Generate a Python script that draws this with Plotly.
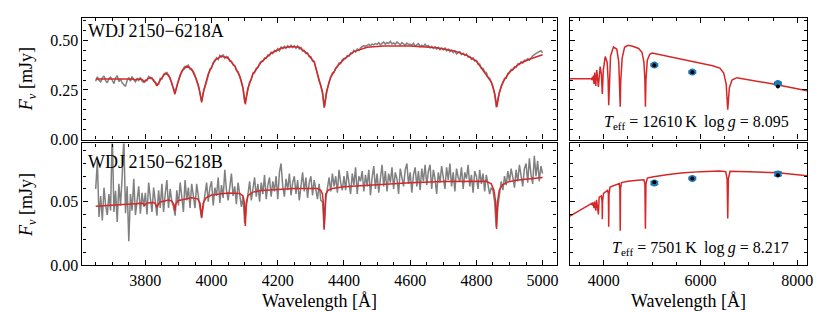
import numpy as np
import plotly.graph_objects as go

# ---------------- data ----------------
obs_wl = np.arange(3650, 5001, 5)

# observed spectrum, WDJ2150-6218A  (units of 1e-3 mJy)
obsA_milli = [
    294, 316, 299, 291, 311, 321, 297, 286, 308, 315,
    300, 282, 310, 322, 292, 304, 286, 276, 268, 298,
    312, 294, 318, 302, 291, 310, 297, 313, 294, 289,
    300, 297, 318, 308, 312, 293, 290, 280, 278, 309,
    305, 329, 329, 340, 320, 312, 277, 261, 237, 270,
    299, 327, 338, 360, 369, 367, 375, 355, 350, 343,
    325, 293, 277, 226, 194, 240, 261, 291, 323, 356,
    360, 389, 395, 412, 403, 424, 416, 428, 410, 419,
    416, 395, 395, 375, 374, 348, 342, 315, 295, 255,
    185, 217, 253, 290, 302, 336, 337, 360, 361, 384,
    395, 394, 412, 409, 426, 422, 440, 433, 449, 443,
    458, 447, 466, 458, 470, 459, 473, 464, 475, 464,
    473, 460, 472, 456, 464, 446, 449, 433, 436, 417,
    417, 396, 395, 359, 335, 295, 274, 233, 160, 222,
    256, 292, 310, 336, 338, 362, 366, 386, 383, 403,
    410, 408, 424, 420, 437, 434, 450, 441, 456, 448,
    462, 466, 473, 469, 477, 480, 473, 482, 477, 484,
    480, 488, 477, 485, 492, 480, 489, 484, 495, 482,
    487, 480, 492, 485, 477, 489, 482, 475, 486, 479,
    480, 475, 485, 470, 478, 484, 468, 476, 470, 480,
    469, 474, 462, 470, 459, 467, 456, 464, 452, 462,
    452, 461, 447, 455, 443, 450, 438, 447, 431, 440,
    443, 428, 435, 424, 431, 416, 419, 404, 411, 396,
    399, 380, 381, 359, 359, 341, 339, 314, 309, 283,
    269, 228, 162, 207, 237, 271, 284, 309, 309, 334,
    336, 353, 350, 367, 364, 381, 378, 392, 386, 400,
    401, 407, 400, 414, 421, 428, 436, 439, 443, 448,
    438,
]

# observed spectrum, WDJ2150-6218B  (units of 1e-4 mJy)
obsB_tenth_milli = [
    600, 820, 380, 545, 352, 610, 470, 395, 560, 430,
    1050, 420, 585, 340, 640, 470, 700, 1000, 410, 620,
    190, 560, 430, 680, 395, 540, 620, 405, 570, 460,
    570, 400, 650, 530, 420, 610, 490, 390, 590, 450,
    640, 420, 560, 670, 450, 600, 500, 460, 390, 590,
    470, 650, 540, 420, 670, 510, 610, 450, 640, 530,
    450, 640, 530, 450, 370, 460, 580, 650, 500, 610,
    660, 470, 610, 545, 690, 490, 630, 530, 750, 590,
    510, 640, 720, 545, 620, 480, 650, 560, 460, 540,
    330, 460, 580, 660, 510, 620, 690, 540, 640, 500,
    650, 560, 710, 520, 630, 690, 540, 660, 580, 700,
    520, 730, 800, 620, 540, 680, 590, 720, 550, 650,
    700, 560, 670, 510, 640, 730, 580, 690, 530, 650,
    700, 550, 670, 600, 520, 640, 510, 500, 290, 520,
    610, 690, 580, 720, 620, 700, 570, 750, 650, 590,
    700, 590, 740, 660, 560, 720, 630, 770, 560, 700,
    660, 740, 580, 710, 620, 750, 550, 690, 780, 600,
    720, 570, 710, 790, 620, 740, 580, 720, 650, 770,
    600, 730, 680, 560, 760, 690, 620, 750, 800, 640,
    730, 570, 710, 770, 620, 740, 590, 760, 660, 790,
    630, 740, 790, 600, 750, 680, 560, 730, 650, 780,
    700, 600, 770, 670, 800, 620, 730, 580, 760, 690,
    660, 770, 600, 730, 680, 790, 620, 710, 570, 740,
    700, 600, 750, 640, 720, 580, 710, 620, 560, 610,
    590, 500, 300, 460, 570, 660, 590, 700, 630, 740,
    660, 760, 690, 610, 750, 660, 790, 700, 620, 760,
    800, 650, 840, 710, 640, 860, 700, 820, 660, 780,
    720,
]

# best-fit spectroscopic model, A (top-left)
modelA_wl = [3650, 3700, 3740, 3760, 3772, 3780, 3790, 3798, 3806, 3815,
             3825, 3835, 3845, 3860, 3870, 3880, 3889, 3898, 3910, 3925,
             3940, 3955, 3963, 3970, 3977, 3990, 4010, 4030, 4050, 4070,
             4085, 4095, 4102, 4110, 4125, 4150, 4180, 4210, 4240, 4265,
             4290, 4310, 4325, 4335, 4341, 4347, 4360, 4380, 4400, 4430,
             4470, 4520, 4600, 4680, 4730, 4770, 4800, 4815, 4825, 4845,
             4855, 4862, 4869, 4880, 4900, 4930, 4960, 5000]
modelA_fl = [0.305, 0.306, 0.306, 0.305, 0.300, 0.305, 0.303, 0.290, 0.305, 0.313,
             0.300, 0.270, 0.300, 0.334, 0.325, 0.285, 0.228, 0.285, 0.345, 0.370,
             0.355, 0.300, 0.250, 0.188, 0.250, 0.330, 0.400, 0.421, 0.410, 0.370,
             0.320, 0.260, 0.178, 0.260, 0.330, 0.390, 0.435, 0.460, 0.469, 0.465,
             0.432, 0.390, 0.300, 0.240, 0.165, 0.240, 0.315, 0.370, 0.405, 0.443,
             0.465, 0.472, 0.471, 0.463, 0.448, 0.425, 0.395, 0.360, 0.340, 0.290,
             0.235, 0.165, 0.235, 0.290, 0.340, 0.382, 0.405, 0.427]

# best-fit spectroscopic model, B (bottom-left)
modelB_wl = [3650, 3700, 3750, 3768, 3772, 3776, 3790, 3795, 3798, 3801,
             3806, 3825, 3830, 3835, 3840, 3845, 3870, 3880, 3886, 3889,
             3892, 3898, 3940, 3958, 3965, 3968, 3970, 3972, 3975, 3983,
             4000, 4050, 4085, 4095, 4099, 4102, 4105, 4110, 4125, 4150,
             4250, 4320, 4330, 4335, 4338, 4340, 4342, 4345, 4352, 4365,
             4400, 4500, 4600, 4700, 4800, 4830, 4845, 4853, 4858, 4861,
             4864, 4869, 4878, 4895, 4920, 5000]
modelB_fl = [0.0464, 0.0472, 0.0480, 0.0484, 0.0478, 0.0485, 0.0488, 0.0482, 0.0470, 0.0482,
             0.0490, 0.0494, 0.0485, 0.0455, 0.0485, 0.0497, 0.0513, 0.0505, 0.0480, 0.0430,
             0.0480, 0.0508, 0.0530, 0.0522, 0.0490, 0.0430, 0.0375, 0.0430, 0.0490, 0.0530,
             0.0552, 0.0568, 0.0565, 0.0545, 0.0490, 0.0310, 0.0490, 0.0548, 0.0575, 0.0588,
             0.0604, 0.0603, 0.0590, 0.0560, 0.0480, 0.0280, 0.0480, 0.0560, 0.0590, 0.0604,
             0.0618, 0.0634, 0.0648, 0.0658, 0.0664, 0.0660, 0.0640, 0.0590, 0.0500, 0.0285,
             0.0500, 0.0590, 0.0630, 0.0655, 0.0668, 0.0690]

# photometric-fit models (right panels)
photmodA_wl = [3300, 3640, 3745, 3755, 3765, 3775, 3785, 3798, 3812, 3835,
               3855, 3889, 3910, 3925, 3950, 3970, 3990, 4030, 4070, 4090,
               4102, 4115, 4140, 4200, 4270, 4310, 4330, 4340, 4350, 4380,
               4430, 4500, 4600, 4720, 4790, 4830, 4850, 4861, 4872, 4900,
               4950, 5000, 6250, 6400, 6480, 6530, 6563, 6596, 6650, 6750,
               7500, 8205]
photmodA_fl = [0.307, 0.307, 0.308, 0.300, 0.315, 0.298, 0.322, 0.280, 0.338, 0.270,
               0.350, 0.265, 0.360, 0.368, 0.330, 0.230, 0.350, 0.418, 0.390, 0.300,
               0.173, 0.300, 0.420, 0.467, 0.455, 0.390, 0.290, 0.165, 0.290, 0.410,
               0.465, 0.475, 0.470, 0.459, 0.440, 0.390, 0.300, 0.165, 0.300, 0.400,
               0.430, 0.436, 0.372, 0.360, 0.335, 0.280, 0.151, 0.260, 0.300, 0.312,
               0.280, 0.246]

photmodB_wl = [3300, 3500, 3700, 3760, 3770, 3778, 3798, 3810, 3835, 3850,
               3889, 3905, 3950, 3965, 3970, 3975, 3995, 4080, 4095, 4102,
               4109, 4130, 4250, 4320, 4333, 4340, 4347, 4365, 4500, 4700,
               4830, 4850, 4861, 4872, 4900, 5000, 5300, 5600, 6000, 6400,
               6520, 6550, 6563, 6576, 6610, 7000, 7600, 8205]
photmodB_fl = [0.0386, 0.0430, 0.0474, 0.0488, 0.0470, 0.0492, 0.0450, 0.0500, 0.0430, 0.0515,
               0.0400, 0.0535, 0.0545, 0.0500, 0.0363, 0.0500, 0.0565, 0.0590, 0.0560, 0.0304,
               0.0560, 0.0615, 0.0635, 0.0642, 0.0600, 0.0271, 0.0600, 0.0650, 0.0660, 0.0668,
               0.0672, 0.0640, 0.0287, 0.0640, 0.0685, 0.0693, 0.0712, 0.0725, 0.0736, 0.0741,
               0.0736, 0.0680, 0.0368, 0.0680, 0.0738, 0.0735, 0.0727, 0.0703]

# photometry
phot_wl = [5045, 5830, 7600]
photA_obs = [0.376, 0.340, 0.283]
photA_err = [0.004, 0.004, 0.005]
photA_syn = [0.375, 0.339, 0.267]
photB_obs = [0.0647, 0.0683, 0.0718]
photB_err = [0.0010, 0.0006, 0.0013]
photB_syn = [0.0652, 0.0683, 0.0708]

labelA = "WDJ\u20092150\u22126218A"
labelB = "WDJ\u20092150\u22126218B"
paramA = "<i>T</i><sub>eff</sub> = 12610\u2009K \u2009log\u2009<i>g</i> = 8.095"
paramB = "<i>T</i><sub>eff</sub> = 7501\u2009K \u2009log\u2009<i>g</i> = 8.217"

# ---------------- figure ----------------
GRAY = "#808080"
RED = "#d62728"
BLUE = "#1f77b4"
FONT = "Liberation Serif"

fig = go.Figure()

fig.add_trace(go.Scatter(x=obs_wl, y=np.array(obsA_milli) / 1000.0, mode="lines",
                         line=dict(color=GRAY, width=1.5), xaxis="x", yaxis="y"))
fig.add_trace(go.Scatter(x=modelA_wl, y=modelA_fl, mode="lines",
                         line=dict(color=RED, width=1.5), xaxis="x", yaxis="y"))

fig.add_trace(go.Scatter(x=photmodA_wl, y=photmodA_fl, mode="lines",
                         line=dict(color=RED, width=1.5), xaxis="x2", yaxis="y2"))
fig.add_trace(go.Scatter(x=phot_wl, y=photA_obs, mode="markers",
                         marker=dict(color=BLUE, size=7),
                         error_y=dict(type="data", array=photA_err, color=BLUE, thickness=2, width=4),
                         xaxis="x2", yaxis="y2"))
fig.add_trace(go.Scatter(x=phot_wl, y=photA_syn, mode="markers",
                         marker=dict(color="black", size=4), xaxis="x2", yaxis="y2"))

fig.add_trace(go.Scatter(x=obs_wl, y=np.array(obsB_tenth_milli) / 10000.0, mode="lines",
                         line=dict(color=GRAY, width=1.5), xaxis="x3", yaxis="y3"))
fig.add_trace(go.Scatter(x=modelB_wl, y=modelB_fl, mode="lines",
                         line=dict(color=RED, width=1.5), xaxis="x3", yaxis="y3"))

fig.add_trace(go.Scatter(x=photmodB_wl, y=photmodB_fl, mode="lines",
                         line=dict(color=RED, width=1.5), xaxis="x4", yaxis="y4"))
fig.add_trace(go.Scatter(x=phot_wl, y=photB_obs, mode="markers",
                         marker=dict(color=BLUE, size=7),
                         error_y=dict(type="data", array=photB_err, color=BLUE, thickness=2, width=4),
                         xaxis="x4", yaxis="y4"))
fig.add_trace(go.Scatter(x=phot_wl, y=photB_syn, mode="markers",
                         marker=dict(color="black", size=4), xaxis="x4", yaxis="y4"))

W, H = 830, 312
L_dom = [75 / W, 552.5 / W]
R_dom = [566 / W, 805 / W]
T_dom = [(H - 135.5) / H, (H - 10) / H]
B_dom = [(H - 265) / H, (H - 139.5) / H]


def ax(**kw):
    d = dict(showline=True, linecolor="black", linewidth=1.2, mirror="ticks",
             ticks="inside", ticklen=5, tickwidth=1, tickcolor="black",
             showgrid=False, zeroline=False,
             tickfont=dict(family=FONT, size=16, color="black"))
    d.update(kw)
    return d


YTITLE = dict(text="<i>F</i><sub><i>ν</i></sub> [mJy]", standoff=12,
              font=dict(family=FONT, size=18))
XTITLE = dict(text="Wavelength [Å]", standoff=6, font=dict(family=FONT, size=18))

fig.update_layout(
    width=W, height=H, margin=dict(l=0, r=0, t=0, b=0),
    paper_bgcolor="white", plot_bgcolor="white", showlegend=False,
    font=dict(family=FONT, size=16, color="black"),
    xaxis=ax(domain=L_dom, anchor="y", range=[3610, 5042], dtick=200, tick0=0,
             showticklabels=False,
             minor=dict(ticks="inside", ticklen=3, dtick=50, tickcolor="black")),
    yaxis=ax(domain=T_dom, anchor="x", range=[0, 0.614], dtick=0.25, tick0=0,
             tickformat=".2f",
             minor=dict(ticks="inside", ticklen=3, dtick=0.05, tickcolor="black"),
             title=YTITLE),
    xaxis2=ax(domain=R_dom, anchor="y2", range=[3300, 8205], dtick=2000, tick0=0,
              showticklabels=False,
              minor=dict(ticks="inside", ticklen=3, dtick=500, tickcolor="black")),
    yaxis2=ax(domain=T_dom, anchor="x2", range=[0, 0.614], dtick=0.25, tick0=0,
              showticklabels=False,
              minor=dict(ticks="inside", ticklen=3, dtick=0.05, tickcolor="black")),
    xaxis3=ax(domain=L_dom, anchor="y3", range=[3610, 5042], dtick=200, tick0=0,
              minor=dict(ticks="inside", ticklen=3, dtick=50, tickcolor="black"),
              title=XTITLE),
    yaxis3=ax(domain=B_dom, anchor="x3", range=[0, 0.0957], dtick=0.05, tick0=0,
              tickformat=".2f",
              minor=dict(ticks="inside", ticklen=3, dtick=0.01, tickcolor="black"),
              title=YTITLE),
    xaxis4=ax(domain=R_dom, anchor="y4", range=[3300, 8205], dtick=2000, tick0=0,
              minor=dict(ticks="inside", ticklen=3, dtick=500, tickcolor="black"),
              title=XTITLE),
    yaxis4=ax(domain=B_dom, anchor="x4", range=[0, 0.0957], dtick=0.05, tick0=0,
              showticklabels=False,
              minor=dict(ticks="inside", ticklen=3, dtick=0.01, tickcolor="black")),
)

annots = [
    dict(text=labelA, xref="x domain", yref="y domain", x=0.008, y=0.89,
         xanchor="left", yanchor="middle", showarrow=False, font=dict(family=FONT, size=18)),
    dict(text=labelB, xref="x3 domain", yref="y3 domain", x=0.008, y=0.85,
         xanchor="left", yanchor="middle", showarrow=False, font=dict(family=FONT, size=18)),
    dict(text=paramA, xref="x2 domain", yref="y2 domain", x=0.93, y=0.14,
         xanchor="right", yanchor="middle", showarrow=False, font=dict(family=FONT, size=16)),
    dict(text=paramB, xref="x4 domain", yref="y4 domain", x=0.93, y=0.135,
         xanchor="right", yanchor="middle", showarrow=False, font=dict(family=FONT, size=16)),
]
fig.update_layout(annotations=annots)

fig.write_html("out.html")
